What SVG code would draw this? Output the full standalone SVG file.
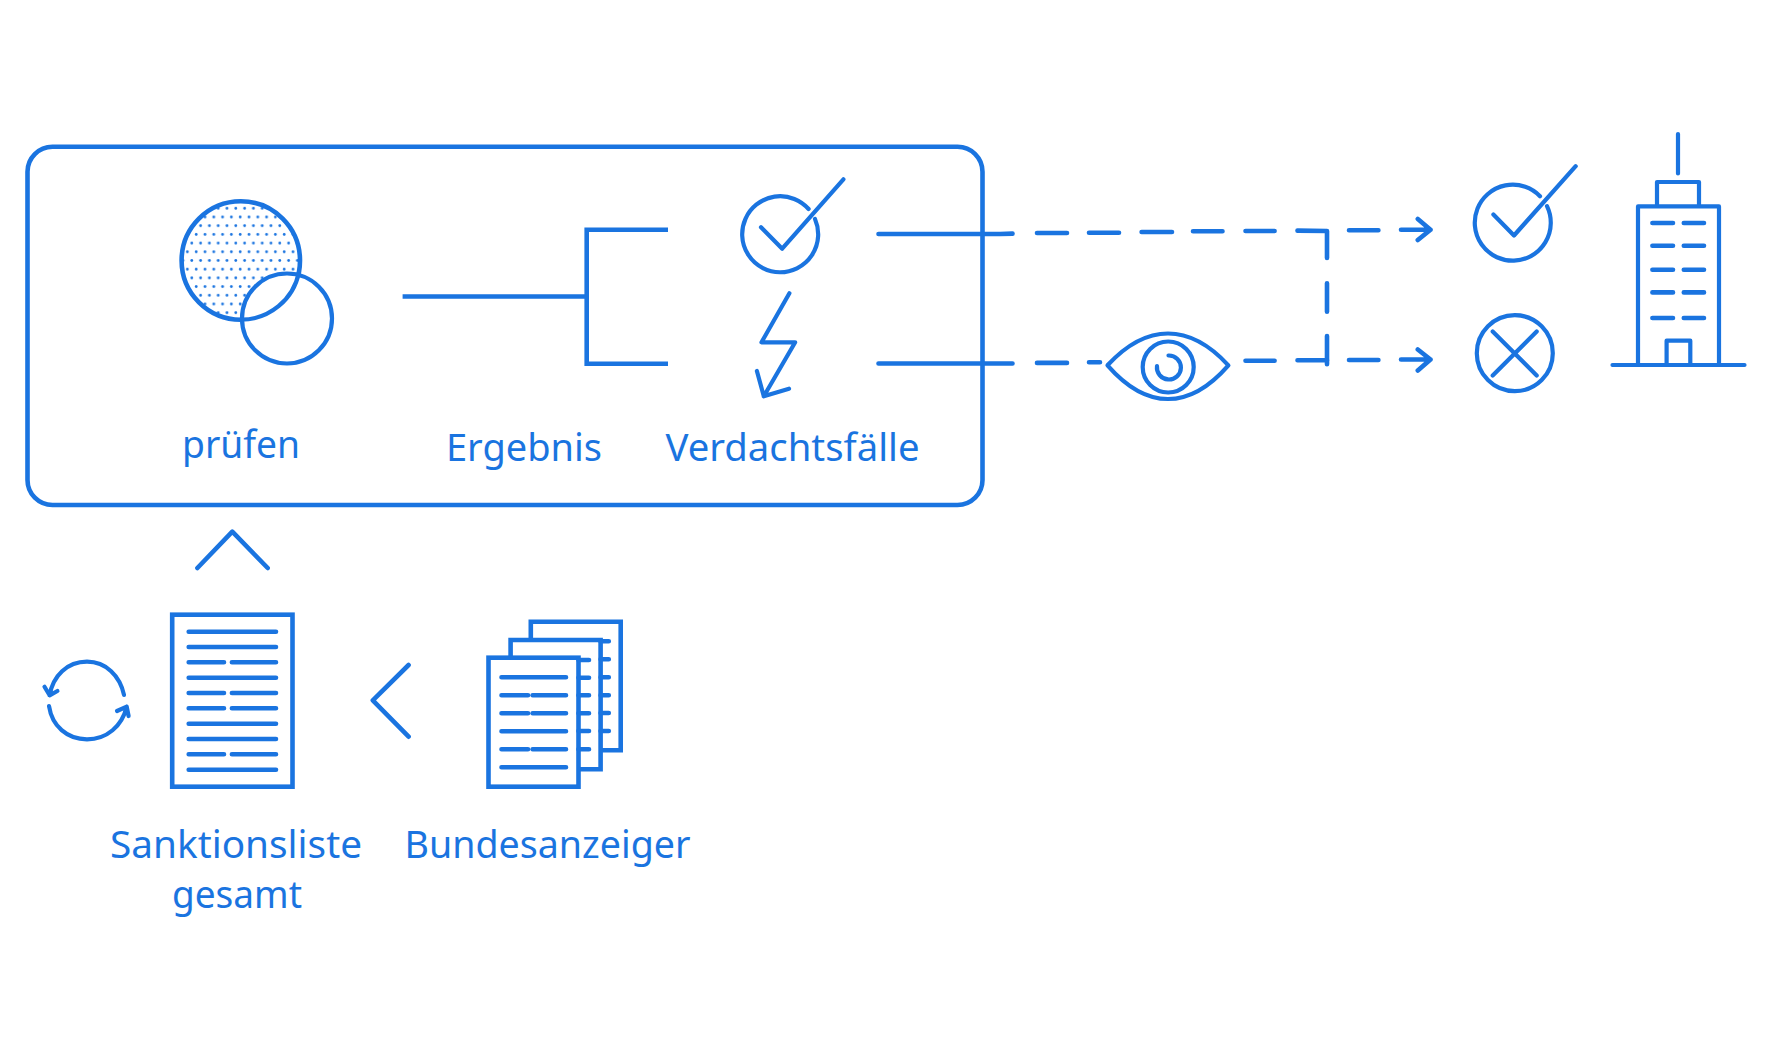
<svg xmlns="http://www.w3.org/2000/svg" width="1771" height="1042" viewBox="0 0 1771 1042">
<style>
.s{fill:none;stroke:#1a74e0;stroke-width:4.2;stroke-linecap:round;stroke-linejoin:round}
.b{fill:none;stroke:#1a74e0;stroke-width:4.6;stroke-linejoin:miter}
.d{fill:none;stroke:#1a74e0;stroke-width:4.6;stroke-linecap:round;stroke-linejoin:round}
text{font-family:"Noto Sans","Open Sans",sans-serif;font-size:39px;fill:#1a74e0;font-variant-ligatures:none}
</style>
<defs>
<pattern id="dots" patternUnits="userSpaceOnUse" x="220.4" y="203.95" width="8.8" height="17.4">
<circle cx="6.6" cy="4.35" r="1.4" fill="#1a74e0"/><circle cx="2.2" cy="13.05" r="1.4" fill="#1a74e0"/>
</pattern>
</defs>
<rect width="1771" height="1042" fill="#fff"/>
<g id="frame"><rect x="27.5" y="146.7" width="955" height="358.3" rx="25" class="b"/></g>
<g id="pruefen">
<circle cx="240.8" cy="260.5" r="59.2" fill="url(#dots)" stroke="#1a74e0" stroke-width="4.6"/>
<circle cx="287" cy="318.5" r="45" fill="#fff" stroke="#1a74e0" stroke-width="4.2"/>
<path d="M299 272A59.2 59.2 0 0 1 241 319.7" class="s"/>
<text x="182" y="457.5" textLength="118" lengthAdjust="spacingAndGlyphs">prüfen</text>
</g>
<g id="ergebnis"><text x="446" y="461" textLength="156" lengthAdjust="spacingAndGlyphs">Ergebnis</text></g>
<g id="verdachtsfaelle">
<path d="M815 219A38 38 0 1 1 808.6 209" class="s"/>
<path d="M761 227.3L782.2 248.7L843.4 179.3" class="s"/>
<path d="M789.4 293.3L761.5 342.3H795.2L763.8 396.3M756.9 371L763.8 396.3L789 388.7" class="s"/>
<text x="665.5" y="461" textLength="254" lengthAdjust="spacingAndGlyphs">Verdachtsfälle</text>
</g>
<g id="eye" transform="translate(0 1)">
<path d="M1107.5 364.3C1130 340 1150 332.5 1168 332.5C1186 332.5 1206 340 1228.4 364.3C1206 390 1186 398 1168 398C1150 398 1130 390 1107.5 364.3Z" class="s"/>
<circle cx="1168.2" cy="366" r="25.5" class="s"/>
<path d="M1168.5 354.5A12 12 0 1 1 1157 365" class="s"/>
</g>
<g id="check-result" transform="translate(-1 -0.5)">
<path d="M1548 206.7A38 38 0 1 1 1541 196.7" class="s"/>
<path d="M1494.4 215L1515 236L1576.7 166.7" class="s"/>
</g>
<g id="cross-result" transform="translate(-0.5 0.5)">
<circle cx="1515.3" cy="352.7" r="38" class="s"/>
<path d="M1493.2 331L1537.2 375M1537.2 331L1493.2 375" class="s"/>
</g>
<g id="building" transform="translate(0 0.7)">
<path d="M1612.5 364.3H1744.5M1638 364.3V205.7H1719V364.3M1657 205.7V181.3H1699V205.7M1678 133.3V172.7M1666.6 364.3V340H1690.3V364.3" class="s"/>
<path d="M1652.4 222.3H1673M1683.8 222.3H1704M1652.4 245H1673M1683.8 245H1704M1652.4 269H1673M1683.8 269H1704M1652.4 291.7H1673M1683.8 291.7H1704M1652.4 317.3H1673M1683.8 317.3H1704" class="d"/>
</g>
<g id="sanktionsliste" transform="translate(0 1)">
<rect x="172.2" y="613.7" width="120.3" height="172" class="b"/>
<path d="M188.7 630.7H276M188.7 646H276M188.7 661.3H224M231.9 661.3H276M188.7 676.7H276M188.7 692H224M231.9 692H276M188.7 707.3H224M231.9 707.3H276M188.7 722.7H276M188.7 738H276M188.7 753.3H224M231.9 753.3H276M188.7 768.7H276" class="d"/>
<text x="110" y="856.7" textLength="252" lengthAdjust="spacingAndGlyphs">Sanktionsliste</text>
<text x="172" y="906.7" textLength="130" lengthAdjust="spacingAndGlyphs">gesamt</text>
</g>
<g id="refresh" transform="translate(0 1)">
<path d="M124 693.9C120 675 106 660.7 87 660.7C67 660.7 53 675 49.6 694.3M44.5 685.7L49.6 694.3L57.4 690" class="s"/>
<path d="M49 705C52 725 67 738.3 87 738.3C107 738.3 122 725 126.7 705.7M117 710L126.7 705.7L128.6 715" class="s"/>
</g>
<g id="bundesanzeiger" transform="translate(0 1)">
<path d="M530.8 639V620.7H620.7V749.3H600.6" class="b"/>
<path d="M510.6 656.7V639H600.6V768.3H578.5" class="b"/>
<rect x="488.5" y="656.7" width="90" height="129" class="b"/>
<path d="M501.5 676.3H566M501.5 694.3H528M532.6 694.3H566M501.5 712.3H528M532.6 712.3H566M501.5 730.3H566M501.5 748.3H528M532.6 748.3H566M501.5 766.3H566" class="d"/>
<path d="M578.5 659H589M578.5 676.7H589M578.5 694.3H589M578.5 712.3H589M578.5 730H589M578.5 748.3H589M600.6 640.3H608.8M600.6 658.3H608.8M600.6 676.3H608.8M600.6 694.3H608.8M600.6 712H608.8M600.6 730H608.8" class="d"/>
<text x="404.5" y="856.7" textLength="286" lengthAdjust="spacingAndGlyphs">Bundesanzeiger</text>
</g>
<g id="connectors">
<path d="M402.6 296.5H586.7M668 229.7H586.7V363.7H668" class="b"/>
<path d="M878.5 234H1000L1012.5 233.6M1037 233H1067M1089 232.8H1119M1141.6 232H1172M1193 231.3H1222.5M1245.5 231H1274.6M1297.5 230.6L1327 231M1327 231V258M1327 283.3V311.7M1327 336V364.3M1349 230.2H1378.4M1401 229.7H1430.5M1417.8 219L1430.5 229.7L1417.8 240" class="d"/>
<path d="M878.5 363.5H1012.5M1037 362.9H1067M1089 362.2H1100M1245.5 360.8H1274.6M1297.5 360.3H1327M1349 360H1378.4M1401 359.5H1430.5M1417.8 349.5L1430.5 359.5L1417.8 370.5" class="d"/>
<path d="M197.4 568L232.3 531.7L267.7 568M408.6 665L372.8 700.3L408.6 736.7" class="d"/>
</g>
</svg>
